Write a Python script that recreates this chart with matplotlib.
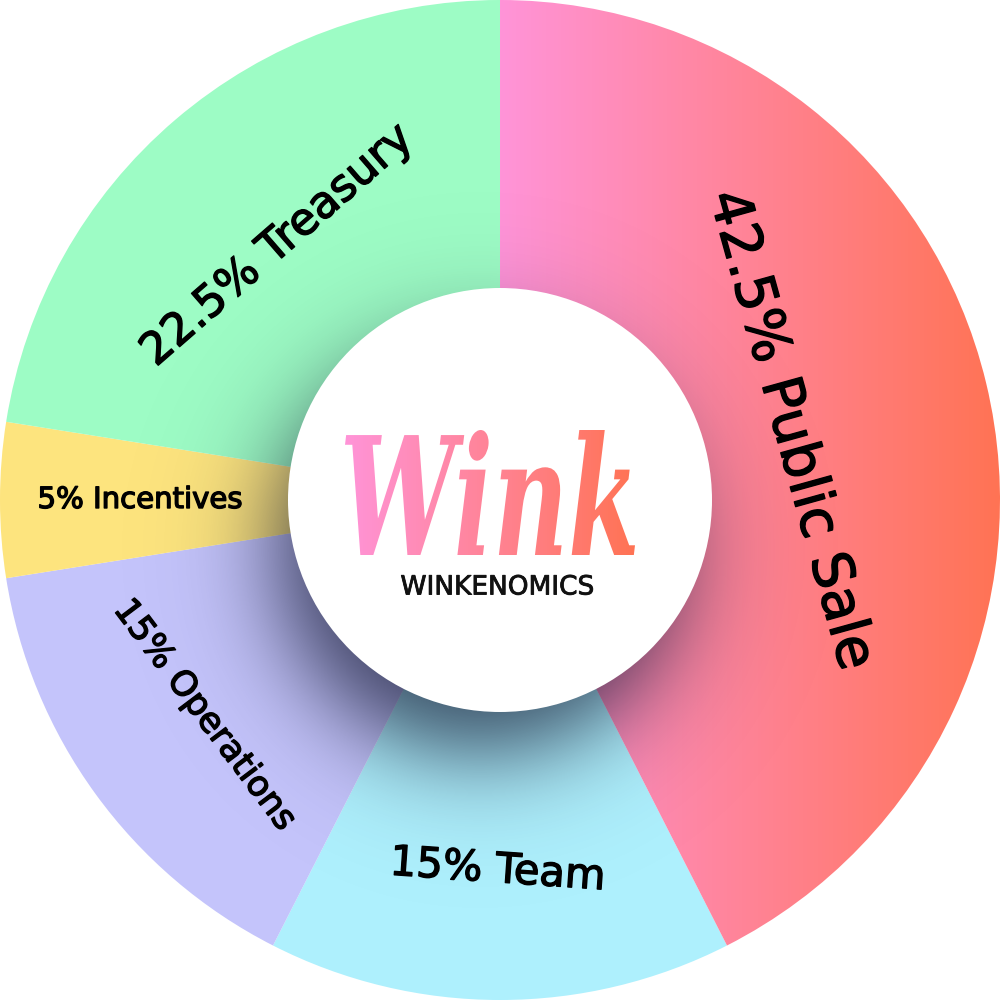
import matplotlib.pyplot as plt
import numpy as np
from matplotlib.patches import Wedge, Circle, PathPatch
from matplotlib.textpath import TextPath
from matplotlib.font_manager import FontProperties
from matplotlib.transforms import Affine2D
import matplotlib.patheffects as pe

# Token allocation (clockwise from 12 o'clock)
labels = ["42.5% Public Sale", "15% Team", "15% Operations", "5% Incentives", "22.5% Treasury"]
shares = [42.5, 15, 15, 5, 22.5]
colors = [None, "#aef0fd", "#c4c4fb", "#fde47e", "#9dfcc5"]
label_sizes = [40, 30, 25, 21, 32]
label_rot = [-74.5, -4, -53, 0, 41]
label_pos = [(0.58, 0.14), (-0.005, -0.74), (-0.59, -0.43), (-0.72, 0.0), (-0.445, 0.51)]

grad_left, grad_right = "#ff94d8", "#ff7354"

fig = plt.figure(figsize=(10, 10), dpi=100)
ax = fig.add_axes([0, 0, 1, 1])
ax.set_xlim(-1, 1)
ax.set_ylim(-1, 1)
ax.set_aspect("equal")
ax.axis("off")

R_IN = 0.424

start = 90.0
wedges = []
for share, col in zip(shares, colors):
    sweep = share / 100 * 360
    w = Wedge((0, 0), 1.0, start - sweep, start, facecolor=col if col else "none",
              edgecolor="none", zorder=1)
    ax.add_patch(w)
    wedges.append(w)
    start -= sweep

# gradient fill for the public sale slice
c1 = np.array(plt.matplotlib.colors.to_rgb(grad_left))
c2 = np.array(plt.matplotlib.colors.to_rgb(grad_right))
t = np.linspace(0, 1, 256)
grad = (c1[None, :] * (1 - t[:, None]) + c2[None, :] * t[:, None])[None, :, :]
im = ax.imshow(grad, extent=[0, 1, -1, 1], aspect="auto", zorder=1.5, interpolation="bilinear")
im.set_clip_path(wedges[0])

# soft shadow under the centre disc
xs = np.linspace(-1, 1, 600)
X, Y = np.meshgrid(xs, xs)
D = np.hypot(X + 0.04, Y + 0.10)
alpha = 0.78 * 0.5 * (1 - np.tanh((D - 0.40) / 0.12))
shadow = np.zeros((600, 600, 4))
shadow[..., 0] = 0.08
shadow[..., 1] = 0.10
shadow[..., 2] = 0.20
shadow[..., 3] = alpha
sh = ax.imshow(shadow, extent=[-1, 1, -1, 1], origin="lower", zorder=2, interpolation="bilinear")
outer = Circle((0, 0), 1.0, transform=ax.transData)
sh.set_clip_path(outer)

ax.add_patch(Circle((0, 0), R_IN, facecolor="white", edgecolor="none", zorder=3))

thick = [pe.withStroke(linewidth=1.0, foreground="black")]

# slice labels
for lab, pos, rot, fs in zip(labels, label_pos, label_rot, label_sizes):
    ax.text(pos[0], pos[1], lab, rotation=rot, fontsize=fs, ha="center", va="center",
            rotation_mode="anchor", color="black", family="DejaVu Sans", zorder=4,
            path_effects=thick)

# logo in the centre
tp = TextPath((0, 0), "Wink", size=1,
              prop=FontProperties(family="DejaVu Serif", style="italic", weight="bold"))
bb = tp.get_extents()
sx = 0.58 / bb.width
sy = 0.25 / bb.height
tr = Affine2D().translate(-bb.x0, -bb.y0).scale(sx, sy).translate(-0.31, -0.11)
logo_path = tr.transform_path(tp)
logo_patch = PathPatch(logo_path, facecolor="none", edgecolor="none", transform=ax.transData)
ax.add_patch(logo_patch)
lim = ax.imshow(grad, extent=[-0.31, 0.27, -0.12, 0.15], aspect="auto", zorder=5,
                interpolation="bilinear")
lim.set_clip_path(logo_patch)

ax.text(-0.005, -0.175, "WINKENOMICS", fontsize=19, ha="center", va="center",
        color="#111111", family="DejaVu Sans", zorder=5,
        path_effects=[pe.withStroke(linewidth=0.6, foreground="#111111")])

fig.savefig("out.png", dpi=100, transparent=False, facecolor="white")
